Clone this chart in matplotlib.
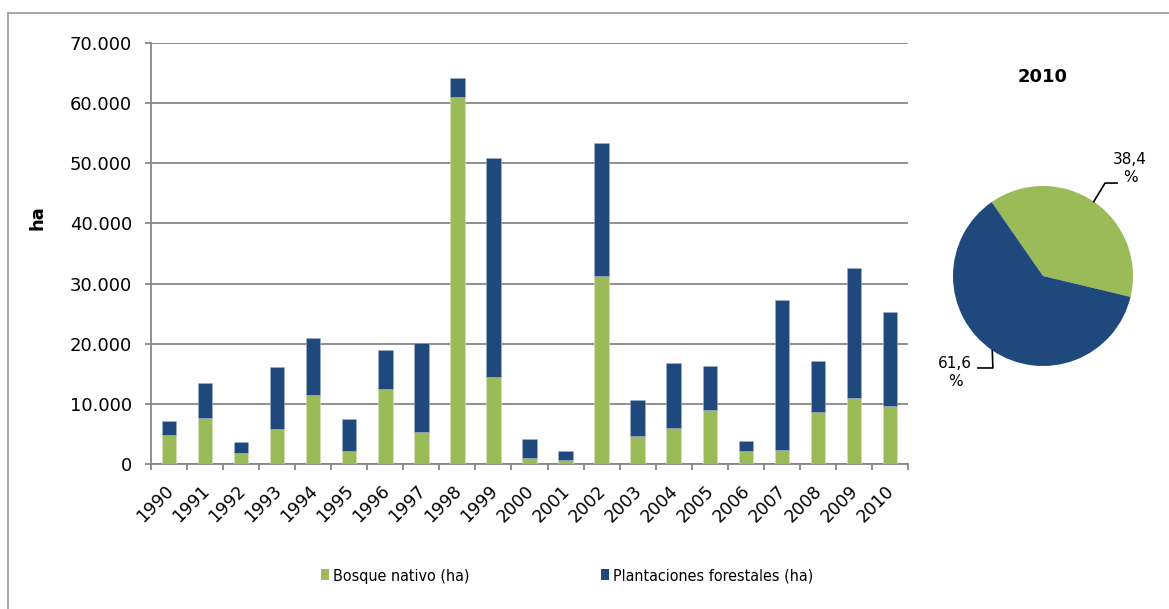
import matplotlib
matplotlib.use("Agg")
import matplotlib.pyplot as plt
import numpy as np
from matplotlib.ticker import FuncFormatter, MultipleLocator, FixedLocator
from matplotlib.transforms import ScaledTranslation
from matplotlib.lines import Line2D
from matplotlib.patches import Patch

# Yearly area (ha) by forest type
years = [str(y) for y in range(1990, 2011)]
bosque_nativo = [4800, 7600, 1800, 5800, 11400, 2200, 12500, 5400, 61100, 14400,
                 1000, 700, 31300, 4700, 6000, 8900, 2200, 2300, 8600, 10900, 9700]
plantaciones = [2400, 5900, 1900, 10400, 9500, 5300, 6500, 14700, 3000, 36400,
                3100, 1500, 22100, 5900, 10800, 7400, 1700, 25000, 8500, 21700, 15560]

# Share of each type in 2010 (%)
pie_year = "2010"
pie_shares = [38.4, 61.6]

series_names = ["Bosque nativo (ha)", "Plantaciones forestales (ha)"]
GREEN = "#9BBB59"
BLUE = "#1F497D"
GRID = "#878787"

W, H = 1169, 609
plt.rcParams["font.family"] = ["DejaVu Sans"]
fig = plt.figure(figsize=(W / 100, H / 100), dpi=100)


def px_box(x0, y0, x1, y1):
    """Figure-fraction rectangle from pixel corners (top-left origin)."""
    return [x0 / W, 1 - y1 / H, (x1 - x0) / W, (y1 - y0) / H]


# ---- stacked bar chart ----
ax = fig.add_axes(px_box(151, 43, 908, 464))
x = np.arange(len(years))
ax.bar(x, bosque_nativo, width=0.4, color=GREEN, zorder=3,
       edgecolor="#d4e3b5", linewidth=0.4)
ax.bar(x, plantaciones, width=0.4, bottom=bosque_nativo, color=BLUE, zorder=3,
       edgecolor="#9fb3cc", linewidth=0.4)

ax.set_xlim(-0.5, len(years) - 0.5)
ax.set_ylim(0, 70000)
ax.yaxis.set_major_locator(MultipleLocator(10000))
ax.yaxis.set_major_formatter(FuncFormatter(lambda v, p: f"{int(v):,}".replace(",", ".")))
ax.yaxis.grid(True, color=GRID, linewidth=1.3)
ax.set_axisbelow(True)

for side in ("top", "right"):
    ax.spines[side].set_visible(False)
for side in ("left", "bottom"):
    ax.spines[side].set_color(GRID)
    ax.spines[side].set_linewidth(1.3)

ax.tick_params(axis="y", length=4.3, width=1.3, color=GRID, pad=9.4,
               labelsize=13, labelcolor="black")
ax.set_xticks(x)
ax.set_xticklabels(years, rotation=45, ha="right", va="top",
                   rotation_mode="anchor")
ax.tick_params(axis="x", which="major", length=0, pad=13, labelsize=12.5,
               labelcolor="black")
ax.xaxis.set_minor_locator(FixedLocator(np.arange(-0.5, len(years), 1.0)))
ax.tick_params(axis="x", which="minor", length=4.3, width=1.3, color=GRID)
shift = ScaledTranslation(-5 / 100, 0, fig.dpi_scale_trans)
for lab in ax.get_xticklabels():
    lab.set_transform(lab.get_transform() + shift)

fig.text(38 / W, 1 - 218 / H, "ha", rotation=90, fontsize=13,
         fontweight="bold", ha="center", va="center")

# ---- pie for the last year ----
pax = fig.add_axes(px_box(953, 186, 1133, 366))
wedges, _ = pax.pie(pie_shares, colors=[GREEN, BLUE], startangle=124.8,
                    counterclock=False, radius=1.0)
pax.set_xlim(-1, 1)
pax.set_ylim(-1, 1)
pax.set_aspect("equal")

# leader elbows and label centres (axes units, relative to the wedge edge)
leader_layout = [
    ((0.126, 0.207), 0.133, (0.967, 1.20)),
    ((0.007, -0.196), -0.166, (-0.978, -1.07)),
]
for w, share, (elbow, run, txt) in zip(wedges, pie_shares, leader_layout):
    mid = np.deg2rad((w.theta1 + w.theta2) / 2)
    sx, sy = np.cos(mid), np.sin(mid)
    ex, ey = sx + elbow[0], sy + elbow[1]
    pax.plot([sx, ex, ex + run], [sy, ey, ey], color="black", lw=1.2,
             clip_on=False)
    pax.text(txt[0], txt[1], f"{share:.1f}".replace(".", ",") + "\n%",
             ha="center", va="center", fontsize=11, linespacing=1.25,
             clip_on=False)

fig.text(1043 / W, 1 - 77 / H, pie_year, ha="center", va="center",
         fontsize=13, fontweight="bold")

# ---- legend ----
handles = [Patch(facecolor=GREEN, edgecolor="none"),
           Patch(facecolor=BLUE, edgecolor="none")]
fig.legend(handles, series_names, loc="center left",
           bbox_to_anchor=(321 / W, 1 - 576 / H), ncol=2, frameon=False,
           borderpad=0, borderaxespad=0, handlelength=0.5,
           handleheight=0.68, handletextpad=0.25, columnspacing=8.25,
           prop={"family": "DejaVu Sans", "stretch": "condensed", "size": 11.5})

# ---- outer frame ----
fig.add_artist(Line2D([8 / W, 1], [1 - 13 / H, 1 - 13 / H],
                      transform=fig.transFigure, color="#a0a0a0", lw=1.3))
fig.add_artist(Line2D([8 / W, 8 / W], [0, 1 - 13 / H],
                      transform=fig.transFigure, color="#a0a0a0", lw=1.3))

fig.savefig("out.png", dpi=100)
